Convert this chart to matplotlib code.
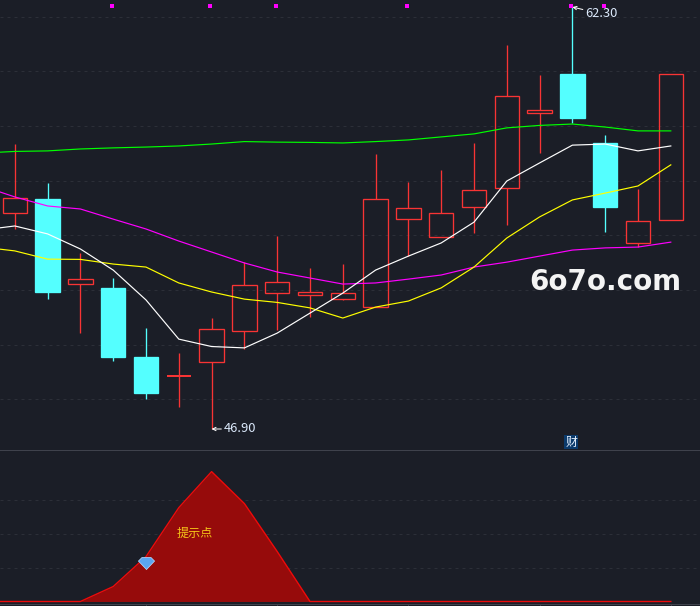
import matplotlib
matplotlib.use("Agg")
import matplotlib.pyplot as plt
from matplotlib.path import Path
from matplotlib.patches import Rectangle
from matplotlib.transforms import ScaledTranslation

plt.rcParams['font.family'] = ['Noto Sans CJK SC', 'DejaVu Sans']

# price data, one entry per session
opens  = [54.78,55.29,52.19,52.05,49.53,48.83,49.35,50.48,51.86,51.79,51.64,51.35,54.56,53.91,55.00,55.70,58.43,59.86,57.34,53.69,54.53]
closes = [55.33,51.90,52.37,49.53,48.21,48.83,50.55,52.16,52.26,51.90,51.86,55.29,54.97,54.78,55.62,59.05,58.54,58.25,55.00,54.49,59.86]
highs  = [57.30,55.88,53.32,52.41,50.59,49.67,50.95,52.99,53.94,52.78,52.92,56.94,55.91,56.35,57.34,60.91,59.82,62.30,57.63,55.66,59.86]
lows   = [54.20,51.64,50.40,49.38,47.99,47.70,46.90,49.82,50.51,50.99,51.60,51.35,53.21,53.91,54.05,54.35,56.97,58.07,54.09,53.54,54.53]

# moving averages, starting one session before the first candle
ma_white   = [54.16,54.31,54.02,53.47,52.70,51.61,50.18,49.91,49.86,50.40,51.13,51.86,52.70,53.21,53.69,54.45,55.95,56.61,57.26,57.30,57.05,57.23]
ma_yellow  = [53.54,53.40,53.10,53.09,52.92,52.81,52.23,51.90,51.64,51.52,51.32,50.95,51.35,51.57,52.05,52.81,53.87,54.64,55.26,55.51,55.77,56.54]
ma_magenta = [55.77,55.37,55.04,54.93,54.56,54.20,53.76,53.36,52.96,52.63,52.41,52.19,52.23,52.37,52.52,52.81,52.99,53.21,53.43,53.51,53.54,53.72]
ma_green   = [56.97,57.03,57.05,57.12,57.16,57.19,57.23,57.30,57.39,57.37,57.36,57.34,57.39,57.45,57.56,57.67,57.89,57.98,58.03,57.92,57.78,57.78]

signal_days = [3, 6, 8, 12, 17, 18]
signal_level = 62.33
price_grid = [47.99, 49.98, 51.98, 53.97, 55.96, 57.96, 59.95, 61.95]

# lower indicator panel
indicator = [0,0,0,0,0.44,1.32,2.76,3.82,2.88,1.47,0,0,0,0,0,0,0,0,0,0,0,0]
indicator_grid = [1, 2, 3]
indicator_ticks = [4, 8, 12, 16, 20]
gem_day = 4
gem_level = 1.13

BG = '#1b1e27'
RED = '#f83434'
CYAN = '#54ffff'
GRID = '#2c2f38'
W, H = 700, 606
THIN = 0.72
CANDLE = 0.95

fig = plt.figure(figsize=(W / 100, H / 100), dpi=100, facecolor=BG)
ax = fig.add_axes([0, (H - 449.5) / H, 1, 449.5 / H], facecolor=BG)
ax2 = fig.add_axes([0, (H - 604) / H, 1, 154 / H], facecolor=BG)

xlim = (-14.8 / 32.8, (W - 14.8) / 32.8)
ax.set_xlim(*xlim)
ax.set_ylim(46.9 + (429 - 449.5) / 27.4, 46.9 + 429 / 27.4)
ax2.set_xlim(*xlim)
ax2.set_ylim((601.5 - 604) / 34, (601.5 - 450) / 34)

ax.set_xticks([])
ax.set_yticks([])
for s in ax.spines.values():
    s.set_visible(False)

for g in price_grid:
    ax.axhline(g, color=GRID, lw=THIN, ls=(0, (3, 4)), zorder=1)

for i, (o, c, h, l) in enumerate(zip(opens, closes, highs, lows)):
    top, bot = max(o, c), min(o, c)
    up = c >= o
    col = RED if up else CYAN
    ax.vlines(i, top, h, color=col, lw=CANDLE, zorder=2, snap=True)
    ax.vlines(i, l, bot, color=col, lw=CANDLE, zorder=2, snap=True)
    ax.add_patch(Rectangle((i - 0.37, bot), 0.74, top - bot,
                           facecolor='none' if up else CYAN,
                           edgecolor=col,
                           lw=THIN * 2 if top == bot else CANDLE,
                           snap=True, zorder=3))

days = list(range(-1, len(opens)))
for vals, col in [(ma_green, '#00ff00'), (ma_magenta, '#ff00ff'),
                  (ma_yellow, '#ffff00'), (ma_white, '#ffffff')]:
    ax.plot(days, vals, color=col, lw=0.85, zorder=4)

nudge = ScaledTranslation(-1.5 / 100, 0, fig.dpi_scale_trans)
ax.scatter(signal_days, [signal_level] * len(signal_days), marker='s', s=5,
           color='#ff00ff', linewidths=0, zorder=5,
           transform=ax.transData + nudge)

label_col = '#dbe9fb'
high_i = highs.index(max(highs))
low_i = lows.index(min(lows))
ax.annotate(f'{max(highs):.2f}', xy=(high_i, max(highs)), xytext=(9.5, -5),
            textcoords='offset points', color=label_col, fontsize=9.3, va='center',
            arrowprops=dict(arrowstyle='->', color='white', lw=THIN,
                            shrinkA=0, shrinkB=0, mutation_scale=6), zorder=6)
ax.annotate(f'{min(lows):.2f}', xy=(low_i, min(lows)), xytext=(9, 0),
            textcoords='offset points', color=label_col, fontsize=9.3, va='center',
            arrowprops=dict(arrowstyle='->', color='white', lw=THIN,
                            shrinkA=0, shrinkB=0, mutation_scale=6), zorder=6)

ax.text(16.96, 46.42, '财', color='#e8f2ff', fontsize=8.6, ha='center', va='center', zorder=6,
        bbox=dict(facecolor='#0b3a6b', edgecolor='none', pad=0.6))
ax.text(605.5 / 700, (449.5 - 281.5) / 449.5, '6o7o.com', transform=ax.transAxes,
        color='#f4f4f4', fontsize=20, fontweight='bold', family='DejaVu Sans',
        ha='center', va='center', zorder=7)

# lower panel
ax2.set_yticks([])
ax2.set_xticks(indicator_ticks)
ax2.set_xticklabels([])
ax2.tick_params(axis='x', length=1.5, width=0.7, color='#3c3f49', pad=0)
for side in ('left', 'right'):
    ax2.spines[side].set_visible(False)
for side in ('top', 'bottom'):
    ax2.spines[side].set_color('#3f424c')
    ax2.spines[side].set_linewidth(THIN)

for g in indicator_grid:
    ax2.axhline(g, color=GRID, lw=THIN, ls=(0, (3, 4)), zorder=1)
ax2.fill_between(days, indicator, 0, color='#960b0b', lw=0, zorder=2)
ax2.plot(days, indicator, color='#ee0a0a', lw=1.0, zorder=3)
ax2.text(5.5, 2.0, '提示点', color='#f5c518', fontsize=8.7, ha='center', va='center', zorder=4)

gem = Path([(-1, 0.3), (-0.55, 0.75), (0.55, 0.75), (1, 0.3), (0, -0.75), (-1, 0.3)],
           [Path.MOVETO, Path.LINETO, Path.LINETO, Path.LINETO, Path.LINETO, Path.CLOSEPOLY])
ax2.scatter([gem_day], [gem_level], marker=gem, s=135, color='#5aa6f2',
            edgecolors='#bcdcff', linewidths=0.5, zorder=5)

fig.savefig('out.png', dpi=100, facecolor=BG)
